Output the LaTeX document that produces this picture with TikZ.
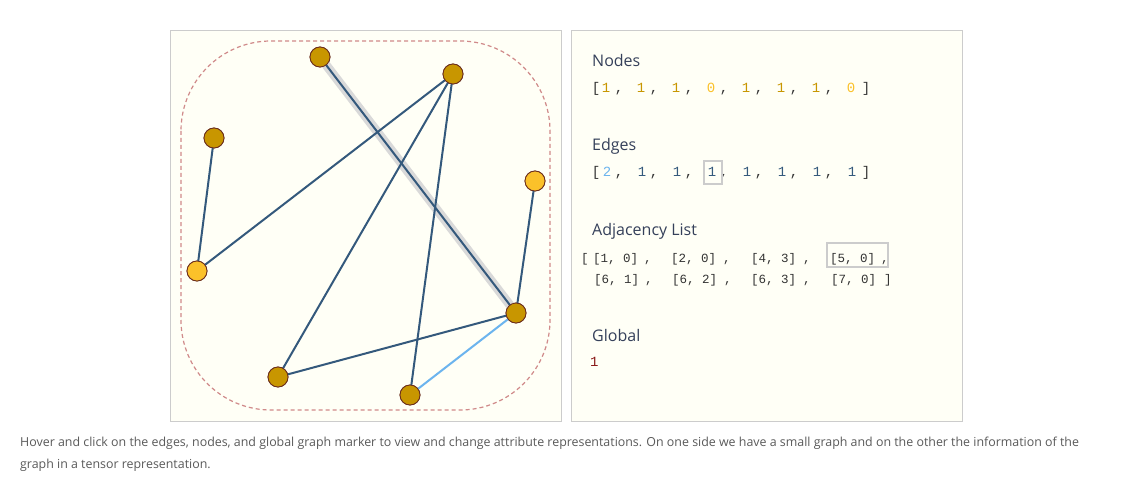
\documentclass[tikz,border=0pt]{standalone}
\usepackage{fontspec}
\setmainfont{Open Sans}
\newfontfamily\monofont{Liberation Mono}
\definecolor{panelfill}{HTML}{FFFFF6}
\definecolor{panelline}{HTML}{CCCCCC}
\definecolor{dashc}{HTML}{D08A8A}
\definecolor{gold}{HTML}{C89600}
\definecolor{lightgold}{HTML}{FBC12A}
\definecolor{nodestroke}{HTML}{6B2E1E}
\definecolor{edgec}{HTML}{34597C}
\definecolor{lightedge}{HTML}{6CB4EE}
\definecolor{hilite}{HTML}{D9D9D9}
\definecolor{headc}{HTML}{35405A}
\definecolor{textc}{HTML}{333333}
\definecolor{globc}{HTML}{8B1A1A}
\definecolor{capc}{HTML}{5A5A5A}
\tikzset{
  panel/.style={draw=panelline, fill=panelfill, line width=0.8pt},
  gnode/.style={circle, draw=nodestroke, line width=0.8pt, minimum size=20pt, inner sep=0pt, fill=gold},
  gnodezero/.style={gnode, fill=lightgold},
  gedge/.style={draw=edgec, line width=2pt},
  head/.style={anchor=base west, inner sep=0pt, text=headc, font=\fontsize{16}{19}\selectfont},
  tok/.style={anchor=base, inner sep=0pt, font=\monofont\fontsize{14}{16}\selectfont},
  adj/.style={anchor=base west, inner sep=0pt, text=textc, font=\monofont\fontsize{12.5}{15}\selectfont},
  selbox/.style={draw=panelline, line width=1.5pt},
  captext/.style={anchor=base west, inner sep=0pt, text=capc, font=\fontsize{12.4}{15}\selectfont}
}
\begin{document}
\begin{tikzpicture}[x=1pt,y=-1pt]
\useasboundingbox[fill=white] (0,0) rectangle (1125,484);
% panels
\draw[panel] (170,30) rectangle (561,421);
\draw[panel] (571,30) rectangle (962,421);
% global marker
\draw[dashc, dash pattern=on 4pt off 3pt, line width=1.2pt, rounded corners=90pt] (181,41) rectangle (550,410);
% graph nodes
\node[gnode] (A) at (320,57) {};
\node[gnode] (B) at (453,74) {};
\node[gnode] (C) at (214,138) {};
\node[gnodezero] (D) at (535,181) {};
\node[gnodezero] (E) at (197,271) {};
\node[gnode] (F) at (516,313) {};
\node[gnode] (G) at (278,377) {};
\node[gnode] (H) at (410,395) {};
% edges
\draw[hilite, line width=9pt] (A.center) -- (F.center);
\draw[gedge] (A.center) -- (F.center);
\draw[gedge] (B.center) -- (E.center);
\draw[gedge] (B.center) -- (G.center);
\draw[gedge] (B.center) -- (H.center);
\draw[gedge] (C.center) -- (E.center);
\draw[gedge] (D.center) -- (F.center);
\draw[gedge] (F.center) -- (G.center);
\draw[draw=lightedge, line width=2pt] (F.center) -- (H.center);
% redraw nodes on top
\foreach \n/\s in {A/gnode,B/gnode,C/gnode,D/gnodezero,E/gnodezero,F/gnode,G/gnode,H/gnode}{
  \node[\s] at (\n) {};
}
% Right panel
\node[head] (nodesh) at (592,67) {Nodes};
\node[tok, text=textc] (nb1) at (596,93) {[};
\foreach \v/\c [count=\i from 0] in {1/gold,1/gold,1/gold,0/lightgold,1/gold,1/gold,1/gold,0/lightgold}{
  \node[tok, text=\c] (nv\i) at ({606+35*\i},93) {\v};
}
\foreach \i in {0,...,6}{
  \node[tok, text=textc] (nc\i) at ({619+35*\i},93) {,};
}
\node[tok, text=textc] (nb2) at (866,93) {]};

\node[head] (edgesh) at (592,151) {Edges};
\node[tok, text=textc] (eb1) at (596,177) {[};
\foreach \v/\c [count=\i from 0] in {2/lightedge,1/edgec,1/edgec,1/edgec,1/edgec,1/edgec,1/edgec,1/edgec}{
  \node[tok, text=\c] (ev\i) at ({607+35*\i},177) {\v};
}
\foreach \i in {0,...,6}{
  \node[tok, text=textc] (ec\i) at ({619+35*\i},177) {,};
}
\node[tok, text=textc] (eb2) at (866,177) {]};
\draw[selbox] (704,161) rectangle (722,184);

\node[head] (adjh) at (592,235) {Adjacency List};
\node[adj] (ab1) at (581,262) {[};
\node[adj] (a1) at (593,262) {[1, 0]};
\node[adj] (ac1) at (644,262) {,};
\node[adj] (a2) at (671,262) {[2, 0]};
\node[adj] (ac2) at (723,262) {,};
\node[adj] (a3) at (751,262) {[4, 3]};
\node[adj] (ac3) at (803,262) {,};
\node[adj] (a4) at (830,262) {[5, 0]};
\node[adj] (ac4) at (881,262) {,};
\draw[selbox] (827,243) rectangle (888,267);
\node[adj] (a5) at (594,283) {[6, 1]};
\node[adj] (ac5) at (645,283) {,};
\node[adj] (a6) at (672,283) {[6, 2]};
\node[adj] (ac6) at (724,283) {,};
\node[adj] (a7) at (751,283) {[6, 3]};
\node[adj] (ac7) at (803,283) {,};
\node[adj] (a8) at (831,283) {[7, 0]};
\node[adj] (ab2) at (884,283) {]};

\node[head] (globh) at (592,341) {Global};
\node[anchor=base west, inner sep=0pt, text=globc, font=\monofont\fontsize{14}{16}\selectfont] (globv) at (590,366) {1};

% caption
\node[captext] (cap1) at (20,446) {Hover and click on the edges, nodes, and global graph marker to view and change attribute representations. On one side we have a small graph and on the other the information of the};
\node[captext] (cap2) at (20,468) {graph in a tensor representation.};
\end{tikzpicture}
\end{document}
